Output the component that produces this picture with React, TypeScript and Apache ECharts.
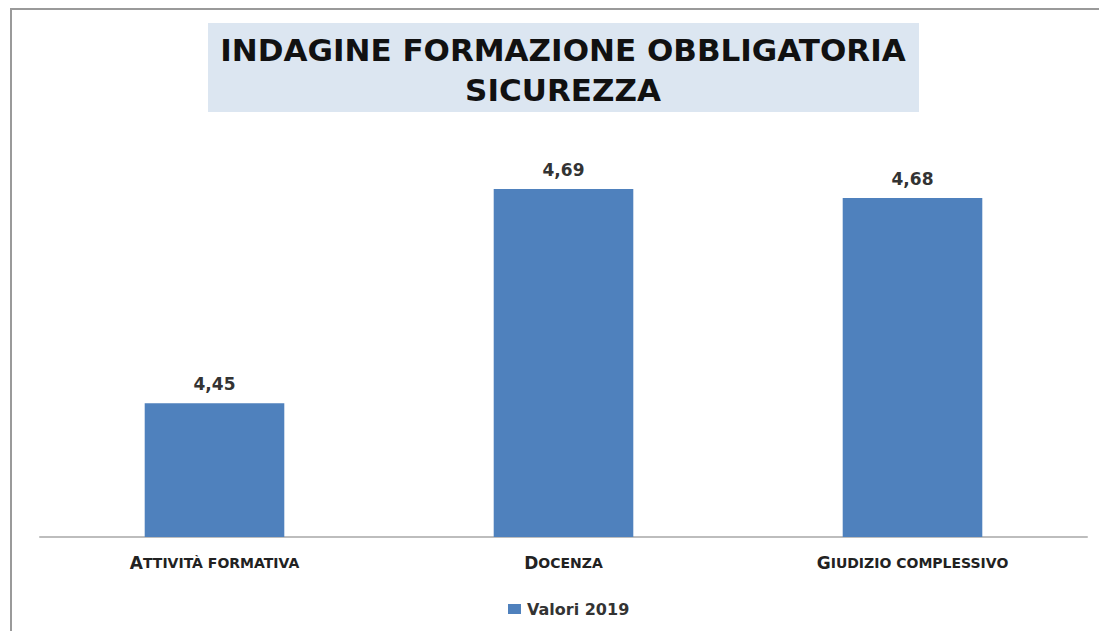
import React, { useEffect, useRef } from "react";
import * as echarts from "echarts";

const categories = ["Attività formativa", "Docenza", "Giudizio complessivo"];
const values2019 = [4.45, 4.69, 4.68];
const seriesName = "Valori 2019";
const titleLines = ["INDAGINE FORMAZIONE OBBLIGATORIA", "SICUREZZA"];

export default function App() {
  const ref = useRef<HTMLDivElement>(null);
  useEffect(() => {
    document.body.style.margin = "0";
    const chart = echarts.init(ref.current!, null, { renderer: "svg" });
    chart.setOption({
      animation: false,
      backgroundColor: "#ffffff",
      graphic: [
        {
          type: "rect",
          shape: { x: 11, y: 9, width: 1200, height: 700 },
          style: { fill: "none", stroke: "#9a9a9a", lineWidth: 2 },
          silent: true,
        },
        {
          type: "rect",
          shape: { x: 208, y: 23, width: 711, height: 89 },
          style: { fill: "#dce6f1" },
          silent: true,
        },
        {
          type: "text",
          x: 563,
          y: 70,
          style: {
            text: titleLines.join("\n"),
            fill: "#111111",
            font: "bold 31px 'DejaVu Sans', sans-serif",
            align: "center",
            verticalAlign: "middle",
            lineHeight: 40,
          },
        },
      ],
      legend: {
        data: [seriesName],
        top: 596,
        left: 503,
        icon: "rect",
        itemWidth: 13,
        itemHeight: 10,
        itemGap: 5,
        textStyle: { fontSize: 16, fontWeight: "bold", color: "#333", fontFamily: "DejaVu Sans", padding: [0, 0, 0, 1] },
      },
      grid: { left: 40, right: 12, top: 91, bottom: 94 },
      xAxis: {
        type: "category",
        data: categories,
        axisLine: { lineStyle: { color: "#bdbdbd", width: 2 } },
        axisTick: { show: false },
        axisLabel: {
          margin: 17,
          formatter: (v: string) => `{b|${v[0].toUpperCase()}}{s|${v.slice(1).toUpperCase()}}`,
          rich: {
            b: { fontSize: 17, fontWeight: "bold", color: "#222", fontFamily: "DejaVu Sans" },
            s: { fontSize: 14, fontWeight: "bold", color: "#222", fontFamily: "DejaVu Sans" },
          },
        },
      },
      yAxis: {
        type: "value",
        min: 4.3,
        max: 4.8,
        show: false,
        splitLine: { show: false },
      },
      series: [
        {
          name: seriesName,
          type: "bar",
          data: values2019,
          barWidth: "40%",
          itemStyle: { color: "#4f81bd" },
          label: {
            show: true,
            position: "top",
            distance: 11,
            formatter: (p: any) => p.value.toFixed(2).replace(".", ","),
            fontSize: 17,
            fontWeight: "bold",
            color: "#333",
            fontFamily: "DejaVu Sans",
          },
        },
      ],
    });
    return () => chart.dispose();
  }, []);
  return <div ref={ref} style={{ width: 1099, height: 631 }} />;
}
